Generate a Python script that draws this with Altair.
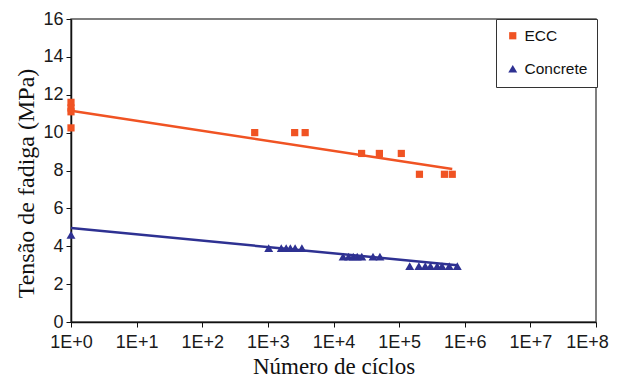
import altair as alt
import pandas as pd

# ECC data (cycles, stress MPa)
ecc_n = [1, 1, 1, 1, 630, 2560, 3700, 26800, 50000, 108000, 204000, 490000, 645000]
ecc_s = [11.6, 11.3, 11.1, 10.25, 10.0, 10.0, 10.0, 8.9, 8.9, 8.9, 7.8, 7.8, 7.8]

# Concrete data
con_n = [1, 1030, 1600, 1900, 2200, 2600, 3300,
         14000, 17000, 20000, 23000, 27000, 40000, 51000,
         145000, 200000, 250000, 300000, 380000, 450000, 580000, 770000]
con_s = [4.6, 3.9, 3.9, 3.9, 3.9, 3.9, 3.9,
         3.45, 3.45, 3.45, 3.45, 3.45, 3.45, 3.45,
         2.95, 2.95, 2.95, 2.95, 2.95, 2.95, 2.95, 2.95]

# Fit lines (end points)
fit_ecc_n = [1, 645000]
fit_ecc_s = [11.15, 8.08]
fit_con_n = [1, 770000]
fit_con_s = [4.96, 3.0]

series = ["ECC", "Concrete"]
colors = ["#F05323", "#2E3192"]
shapes = ["square", "triangle-up"]

pts = pd.DataFrame({
    "n": ecc_n + con_n,
    "s": ecc_s + con_s,
    "series": ["ECC"] * len(ecc_n) + ["Concrete"] * len(con_n),
})
fit_ecc = pd.DataFrame({"n": fit_ecc_n, "s": fit_ecc_s})
fit_con = pd.DataFrame({"n": fit_con_n, "s": fit_con_s})

x = alt.X("n:Q", scale=alt.Scale(type="log", domain=[1, 1e8], nice=False),
          axis=alt.Axis(title="Número de cíclos", values=[10**i for i in range(9)],
                        labelExpr="'1E+' + round(log(datum.value)/LN10)",
                        labelFlush=False, labelOverlap=False,
                        labelOffset={"condition": {"test": "datum.value >= 100000000", "value": -9},
                                     "value": 0},
                        grid=False, labelFont="Liberation Sans", labelFontSize=18,
                        labelColor="#1a1a1a", titleFont="Liberation Serif", titleFontSize=23,
                        titleFontWeight="normal", titleColor="#111", domainColor="#111",
                        tickColor="#111", tickSize=5, labelPadding=6, titlePadding=4,
                        domainWidth=1.5))
y = alt.Y("s:Q", scale=alt.Scale(domain=[0, 16], nice=False),
          axis=alt.Axis(title="Tensão de fadiga (MPa)", values=list(range(0, 17, 2)),
                        labelFlush=False, labelOverlap=False,
                        grid=False, labelFont="Liberation Sans", labelFontSize=18,
                        labelColor="#1a1a1a", titleFont="Liberation Serif", titleFontSize=24,
                        titleFontWeight="normal", titleColor="#111", domainColor="#111",
                        tickColor="#111", tickSize=5, labelPadding=3, titlePadding=4,
                        titleY=164, domainWidth=1.5))

leg = dict(title=None, orient="none", legendX=425, legendY=0,
           strokeColor="#333", fillColor="white", padding=9,
           rowPadding=16, labelFont="Liberation Sans", labelFontSize=15.5,
           labelColor="#111", symbolSize=45, labelOffset=4, cornerRadius=0)

color = alt.Color("series:N", scale=alt.Scale(domain=series, range=colors),
                  legend=alt.Legend(**leg))
shape = alt.Shape("series:N", scale=alt.Scale(domain=series, range=shapes),
                  legend=alt.Legend(**leg))
size = alt.Size("series:N", scale=alt.Scale(domain=series, range=[52, 80]), legend=None)

line_ecc = alt.Chart(fit_ecc).mark_line(strokeWidth=2.5, clip=False, color=colors[0]).encode(x=x, y=y)
line_con = alt.Chart(fit_con).mark_line(strokeWidth=2.5, clip=False, color=colors[1]).encode(x=x, y=y)
points = alt.Chart(pts).mark_point(filled=True, opacity=1, clip=False).encode(
    x=x, y=y, color=color, shape=shape, size=size)

chart = alt.layer(line_ecc, line_con, points).properties(
    width=525, height=303,
    autosize=alt.AutoSizeParams(type="none"),
    padding={"left": 63, "top": 11, "right": 13, "bottom": 58},
).configure_view(stroke="#555", strokeWidth=1.5)

chart.save("out.html", embed_options={"renderer": "svg", "actions": False})
